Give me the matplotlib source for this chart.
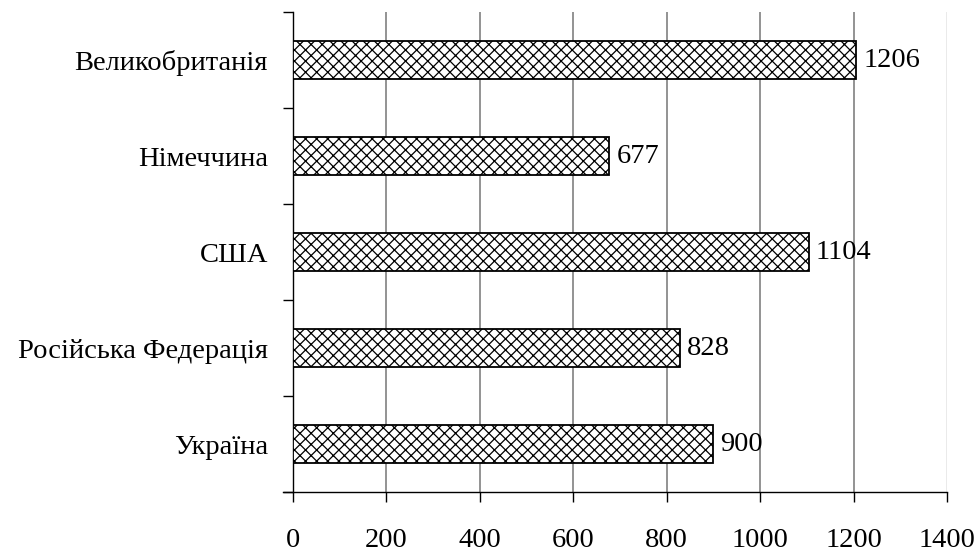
import matplotlib.pyplot as plt
import numpy as np

plt.rcParams['font.family'] = ['Liberation Serif', 'DejaVu Serif']
plt.rcParams['hatch.linewidth'] = 0.9

countries = ['Україна', 'Російська Федерація', 'США', 'Німеччина', 'Великобританія']
values = [900, 828, 1104, 677, 1206]
xticks = [0, 200, 400, 600, 800, 1000, 1200, 1400]

fs = 20.5

fig = plt.figure(figsize=(9.79, 5.53), dpi=100)
ax = fig.add_axes([0.2993, 0.110, 0.668, 0.868])

y = np.arange(len(countries))
ax.barh(y, values, height=0.39, color='white', edgecolor='black',
        linewidth=1.3, hatch='xxx', zorder=3)

for yi, v in zip(y, values):
    ax.text(v + 15, yi, str(v), va='center', ha='left', fontsize=fs, zorder=4)

ax.set_xlim(0, 1400)
ax.set_ylim(-0.5, len(countries) - 0.5)
ax.set_xticks(xticks)
ax.set_xticklabels([str(t) for t in xticks], fontsize=fs)
ax.set_yticks(y)
ax.set_yticklabels(countries, fontsize=fs)
ax.tick_params(axis='y', which='major', length=0, pad=18)
ax.set_yticks(np.arange(-0.5, len(countries)), minor=True)
ax.tick_params(axis='y', which='minor', length=7.2, width=1, direction='out')
ax.tick_params(axis='x', length=7.5, width=1, direction='out', pad=18)

# grid lines, the one at 1400 is barely visible
ax.grid(axis='x', color='#808080', linewidth=1.2, zorder=0)
ax.get_xgridlines()[-1].set_color('#e6e6e6')
for s in ['top', 'right']:
    ax.spines[s].set_visible(False)
ax.spines['left'].set_linewidth(1)
ax.spines['bottom'].set_linewidth(1)
ax.spines['bottom'].set_bounds(-22, 1400)

fig.savefig('out.png', dpi=100)
